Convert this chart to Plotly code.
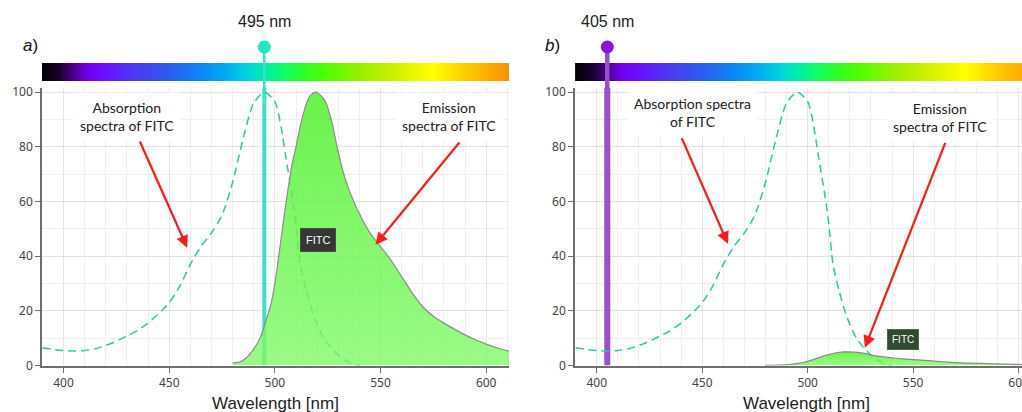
import numpy as np
import plotly.graph_objects as go

# ---------------- data ----------------
ABS_WL = [390, 395, 400, 405, 410, 415, 420, 425, 430, 435, 440, 445, 450, 455, 460, 465, 470,
          475, 480, 485, 490, 495, 500, 503, 505, 508, 510, 512, 515, 518, 520, 523, 526, 528,
          530, 533, 537, 540]
ABS_VAL = [6.5, 5.9, 5.5, 5.3, 5.5, 6.1, 7.3, 8.9, 10.8, 12.8, 15.5, 19, 23, 29, 37, 43.5, 48.5,
           55, 67, 83, 96, 100, 96.5, 87, 77, 63, 52, 37, 27, 19, 15, 10.2, 7, 5.3,
           3.8, 2.1, 0.5, 0]

EM_WL = [480, 483, 486, 489, 492, 494, 496, 498, 500, 502, 505, 508, 510, 512, 515, 517, 519.5,
         522, 524, 527, 530, 533, 536, 540, 545, 550, 555, 560, 565, 570, 575, 580, 585, 590,
         595, 600, 605, 611]
EM_A = [1.0, 1.2, 2.5, 5, 8.5, 12, 17, 22, 30, 41, 58, 73, 80, 87.5, 96, 99, 100,
        98.5, 96.5, 89, 78, 69, 62.5, 55.5, 48.5, 43.5, 38.5, 32.5, 26.5, 21.5, 18, 15.5, 13.3, 11.2,
        9.4, 7.8, 6.5, 5.2]
EM_B = [0.05, 0.06, 0.12, 0.25, 0.42, 0.6, 0.85, 1.1, 1.5, 2.0, 2.8, 3.6, 4.0, 4.4, 4.8, 4.95, 5.0,
        4.9, 4.8, 4.45, 3.9, 3.45, 3.15, 2.8, 2.4, 2.15, 1.9, 1.6, 1.3, 1.05, 0.9, 0.8, 0.68, 0.56,
        0.48, 0.39, 0.33, 0.26]

LASER_A = 495
LASER_B = 405
LASER_LABELS = ["495 nm", "405 nm"]
PANEL_LABELS = ["<i>a</i>)", "<i>b</i>)"]

SPEC_WL = [390, 398, 405, 412, 420, 435, 450, 465, 478, 488, 497, 505, 515, 525, 540, 555,
           568, 575, 590, 605, 611]
SPEC_COL = ["#000000", "#1a0030", "#4b0090", "#7200f0", "#6a10ff", "#4a3cf0", "#2a5cf0",
            "#0a88f8", "#00b0f0", "#00d8d8", "#00f0a0", "#10ff60", "#30ff20", "#50ff00",
            "#98f000", "#c8f000", "#f0f800", "#ffff00", "#ffcc00", "#ffa000", "#f89000"]

XTICKS = [400, 450, 500, 550, 600]
YTICKS = [0, 20, 40, 60, 80, 100]

# ---------------- geometry ----------------
W, H = 1022, 412
def py(p):
    return 1 - p / H

XA_RANGE = [389.8, 610.8]
XB_RANGE = [389.7, 601.6]
Y_RANGE = [0, 101.5]
XA_DOM = [42 / W, 509 / W]
XB_DOM = [575 / W, 1.0]
Y_DOM = [py(365.5), py(88)]
BAR_DOM = [py(81), py(63)]
MARK_Y = py(47)

fig = go.Figure()

lo, hi = SPEC_WL[0], SPEC_WL[-1]
cscale = [[(w - lo) / (hi - lo), c] for w, c in zip(SPEC_WL, SPEC_COL)]
grid = np.arange(lo, hi + 0.5, 0.5)
for xa, ya in [("x3", "y3"), ("x4", "y4")]:
    fig.add_trace(go.Heatmap(x=grid, y=[0], z=[grid], colorscale=cscale, zmin=lo, zmax=hi,
                             showscale=False, hoverinfo="skip", xaxis=xa, yaxis=ya))

ABS_COLOR = "#2bc9a0"
FILL = dict(type="vertical",
            colorscale=[[0, "rgba(125,250,100,0.78)"], [1, "rgba(80,240,45,0.85)"]])

panels = [
    dict(xa="x", ya="y", laser=LASER_A, lcol="#3ee0c8", lw=4, em=EM_A),
    dict(xa="x2", ya="y2", laser=LASER_B, lcol="#9a4fcc", lw=6, em=EM_B),
]
for p in panels:
    fig.add_trace(go.Scatter(x=[p["laser"], p["laser"]], y=[0, Y_RANGE[1]], mode="lines",
                             line=dict(color=p["lcol"], width=p["lw"]), xaxis=p["xa"],
                             yaxis=p["ya"], hoverinfo="skip", showlegend=False))
    fig.add_trace(go.Scatter(x=ABS_WL, y=ABS_VAL, mode="lines",
                             line=dict(color=ABS_COLOR, width=1.5, dash="8px,5px", shape="spline",
                                       smoothing=0.7),
                             xaxis=p["xa"], yaxis=p["ya"], showlegend=False))
    fig.add_trace(go.Scatter(x=EM_WL, y=p["em"], mode="lines", fill="tozeroy",
                             fillgradient=FILL,
                             line=dict(color="#8c8c8c", width=1.2, shape="spline", smoothing=0.7),
                             xaxis=p["xa"], yaxis=p["ya"], showlegend=False))

axis_common = dict(showline=True, linecolor="#6e6e6e", ticks="outside", ticklen=5,
                   tickcolor="#6e6e6e", tickfont=dict(family="Noto Sans", size=12, color="#444"),
                   zeroline=False, mirror=False, automargin=False)
xgrid = dict(showgrid=True, gridcolor="#e6e6e6", gridwidth=1, ticklabeloverflow="allow",
             minor=dict(dtick=10, showgrid=True, gridcolor="#eeeeee", ticks=""))
ygrid = dict(showgrid=True, gridcolor="#e2e2e2", gridwidth=1,
             minor=dict(dtick=10, showgrid=True, gridcolor="#f0f0f0", ticks=""))
hidden = dict(visible=False, automargin=False)

fig.update_layout(
    width=W, height=H, margin=dict(l=0, r=0, t=0, b=0, autoexpand=False),
    paper_bgcolor="white", plot_bgcolor="white", showlegend=False,
    xaxis=dict(domain=XA_DOM, range=XA_RANGE, anchor="y", tickvals=XTICKS, linewidth=2,
               **axis_common, **xgrid),
    yaxis=dict(domain=Y_DOM, range=Y_RANGE, anchor="x", tickvals=YTICKS, linewidth=1.5,
               **axis_common, **ygrid),
    xaxis2=dict(domain=XB_DOM, range=XB_RANGE, anchor="y2", tickvals=XTICKS, linewidth=2,
                **axis_common, **xgrid),
    yaxis2=dict(domain=Y_DOM, range=Y_RANGE, anchor="x2", tickvals=YTICKS, linewidth=1.5,
                **axis_common, **ygrid),
    xaxis3=dict(domain=XA_DOM, range=XA_RANGE, anchor="y3", **hidden),
    yaxis3=dict(domain=BAR_DOM, range=[-0.5, 0.5], anchor="x3", **hidden),
    xaxis4=dict(domain=XB_DOM, range=XB_RANGE, anchor="y4", **hidden),
    yaxis4=dict(domain=BAR_DOM, range=[-0.5, 0.5], anchor="x4", **hidden),
)

shapes = []
stem = [("x", LASER_A, "#3ee0c8", "#1de9c0", 2.5), ("x2", LASER_B, "#9450cc", "#8a14d6", 4.5)]
for xr, wl, lc, mc, w in stem:
    shapes.append(dict(type="line", xref=xr, yref="paper", x0=wl, x1=wl, y0=Y_DOM[1],
                       y1=MARK_Y, line=dict(color=lc, width=w), layer="above"))
    shapes.append(dict(type="circle", xref=xr, yref="paper", xsizemode="pixel",
                       ysizemode="pixel", xanchor=wl, yanchor=MARK_Y, x0=-6.5, x1=6.5,
                       y0=-6.5, y1=6.5, fillcolor=mc, line=dict(width=0), layer="above"))
fig.update_layout(shapes=shapes)

ann = []
txt_font = dict(family="Lato", size=14, color="#222")
for xr, wl, lab in [("x", LASER_A, LASER_LABELS[0]), ("x2", LASER_B, LASER_LABELS[1])]:
    ann.append(dict(xref=xr, yref="paper", x=wl, y=py(22), text=lab, showarrow=False,
                    font=dict(family="Liberation Sans", size=16, color="#222"),
                    xanchor="center", yanchor="middle"))
for px_x, lab in [(30, PANEL_LABELS[0]), (552, PANEL_LABELS[1])]:
    ann.append(dict(xref="paper", yref="paper", x=px_x / W, y=py(46), text=lab,
                    showarrow=False, xanchor="center", yanchor="middle",
                    font=dict(family="Liberation Sans", size=17, color="#111")))
for cx in [275.5, 806]:
    ann.append(dict(xref="paper", yref="paper", x=cx / W, y=py(403), text="Wavelength [nm]",
                    showarrow=False, font=dict(family="Liberation Sans", size=17, color="#222"),
                    xanchor="center", yanchor="middle"))

labels = [
    ("x", "y", 430.1, 91.2, "Absorption<br>spectra of FITC"),
    ("x", "y", 582.2, 91.2, "Emission<br>spectra of FITC"),
    ("x2", "y2", 445.6, 92.6, "Absorption spectra<br>of FITC"),
    ("x2", "y2", 562.7, 90.7, "Emission<br>spectra of FITC"),
]
for xr, yr, x, y, t in labels:
    ann.append(dict(xref=xr, yref=yr, x=x, y=y, text=t, showarrow=False, font=txt_font,
                    bgcolor="white", borderpad=6, align="center"))

arrows = [
    ("x", "y", 458.5, 43.1, 435.8, 82.5),
    ("x", "y", 547.6, 44.2, 587.9, 82.1),
    ("x2", "y2", 462.2, 44.5, 440.0, 83.7),
    ("x2", "y2", 527.1, 6.5, 565.5, 82.0),
]
for xr, yr, x, y, ax, ay in arrows:
    ann.append(dict(xref=xr, yref=yr, x=x, y=y, ax=ax, ay=ay, axref=xr, ayref=yr, text="",
                    showarrow=True, arrowhead=2, arrowsize=1.1, arrowwidth=2.2,
                    arrowcolor="#ff1a1a"))

ann.append(dict(xref="x", yref="y", x=520.6, y=46, text="FITC", showarrow=False,
                font=dict(family="Liberation Sans Narrow, Liberation Sans", size=11, color="white"),
                bgcolor="#353735", borderpad=5, bordercolor="#4a4a4a", borderwidth=1))
ann.append(dict(xref="x2", yref="y2", x=545.4, y=9.5, text="FITC", showarrow=False,
                font=dict(family="Liberation Sans Narrow, Liberation Sans", size=10, color="white"),
                bgcolor="#2e4a30", borderpad=4, bordercolor="#4a6a4a", borderwidth=1))

fig.update_layout(annotations=ann)
fig.write_html("out.html", config={"displayModeBar": False},
               post_script="document.body.style.margin='0';document.body.style.overflow='hidden';")
